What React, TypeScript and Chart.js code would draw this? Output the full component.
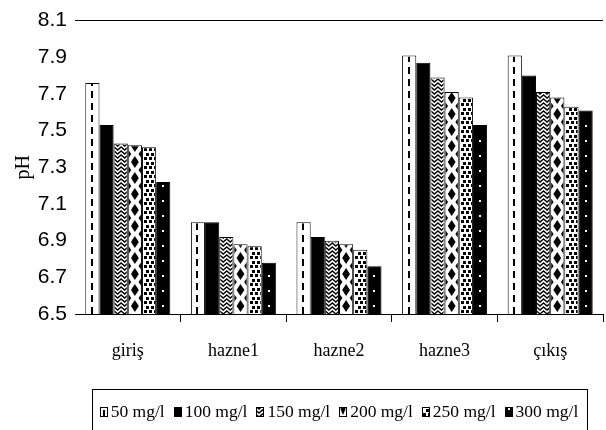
import React, { useEffect, useRef } from "react";
import { Chart, registerables } from "chart.js";

Chart.register(...registerables);

// Sampling points along the treatment line
const categories = ["giriş", "hazne1", "hazne2", "hazne3", "çıkış"];

// Dose series (mg/l) and the measured pH at each point
const seriesLabels = ["50 mg/l", "100 mg/l", "150 mg/l", "200 mg/l", "250 mg/l", "300 mg/l"];
const ph50 = [7.76, 7.0, 7.0, 7.91, 7.91];
const ph100 = [7.53, 7.0, 6.92, 7.87, 7.8];
const ph150 = [7.43, 6.92, 6.9, 7.79, 7.71];
const ph200 = [7.42, 6.88, 6.88, 7.71, 7.68];
const ph250 = [7.41, 6.87, 6.85, 7.68, 7.63];
const ph300 = [7.22, 6.78, 6.76, 7.53, 7.61];

// Value axis
const yMin = 6.5;
const yMax = 8.1;
const yStep = 0.2;
const yTitle = "pH";

type Fill = (ctx: CanvasRenderingContext2D, x: number, y: number, w: number, h: number) => void;

// White with a dashed vertical stripe
const fillDashed: Fill = (ctx, x, y, w, h) => {
  ctx.fillStyle = "#fff";
  ctx.fillRect(x, y, w, h);
  ctx.strokeStyle = "#000";
  ctx.lineWidth = 2;
  ctx.setLineDash([7, 5]);
  const cx = Math.round(x + w * 0.45);
  ctx.beginPath();
  ctx.moveTo(cx, y + h);
  ctx.lineTo(cx, y);
  ctx.stroke();
  ctx.setLineDash([]);
};

// Solid black
const fillSolid: Fill = (ctx, x, y, w, h) => {
  ctx.fillStyle = "#000";
  ctx.fillRect(x, y, w, h);
};

// Herringbone zig-zag
const fillZigzag: Fill = (ctx, x, y, w, h) => {
  ctx.fillStyle = "#fff";
  ctx.fillRect(x, y, w, h);
  ctx.strokeStyle = "#000";
  ctx.lineWidth = 1.4;
  for (let yy = y + h + 4; yy > y - 6; yy -= 4) {
    ctx.beginPath();
    let k = 0;
    for (let xx = x - 4; xx <= x + w + 4; xx += 3.5, k++) {
      const py = yy - (k % 2 ? 3 : 0);
      if (k === 0) ctx.moveTo(xx, py);
      else ctx.lineTo(xx, py);
    }
    ctx.stroke();
  }
};

// Column of black diamonds with half-diamonds on the edges
const fillDiamonds: Fill = (ctx, x, y, w, h) => {
  ctx.fillStyle = "#fff";
  ctx.fillRect(x, y, w, h);
  ctx.fillStyle = "#000";
  const period = 16;
  const cx = x + w / 2;
  const diamond = (px: number, py: number, hw: number, hh: number) => {
    ctx.beginPath();
    ctx.moveTo(px, py - hh);
    ctx.lineTo(px + hw, py);
    ctx.lineTo(px, py + hh);
    ctx.lineTo(px - hw, py);
    ctx.closePath();
    ctx.fill();
  };
  for (let cy = y + h - period / 2; cy > y - period; cy -= period) {
    diamond(cx, cy, w * 0.32, 6);
    diamond(x - 1, cy - period / 2, w * 0.28, 5);
    diamond(x + w + 1, cy - period / 2, w * 0.28, 5);
  }
};

// Staggered small squares
const fillChecks: Fill = (ctx, x, y, w, h) => {
  ctx.fillStyle = "#fff";
  ctx.fillRect(x, y, w, h);
  ctx.fillStyle = "#000";
  let row = 0;
  for (let yy = y + h - 4; yy > y - 5; yy -= 4.5, row++) {
    const off = row % 2 ? 2.5 : 0;
    for (let xx = x + 1 + off; xx < x + w; xx += 5) {
      ctx.fillRect(Math.round(xx), Math.round(yy), 3, 3);
    }
  }
};

// Black with a sparse column of white dots
const fillDots: Fill = (ctx, x, y, w, h) => {
  ctx.fillStyle = "#000";
  ctx.fillRect(x, y, w, h);
  ctx.fillStyle = "#fff";
  const cx = Math.round(x + w / 2 - 1);
  for (let yy = y + h - 9; yy > y; yy -= 15) {
    ctx.fillRect(cx, Math.round(yy), 2, 2);
  }
};

const fills: Fill[] = [fillDashed, fillSolid, fillZigzag, fillDiamonds, fillChecks, fillDots];
const seriesValues = [ph50, ph100, ph150, ph200, ph250, ph300];

const barPatterns = {
  id: "barPatterns",
  afterDatasetsDraw(chart: any) {
    const ctx: CanvasRenderingContext2D = chart.ctx;
    const area = chart.chartArea;
    chart.data.datasets.forEach((_ds: any, di: number) => {
      const meta = chart.getDatasetMeta(di);
      const fill = fills[di];
      meta.data.forEach((el: any) => {
        const { x, y, base, width } = el.getProps(["x", "y", "base", "width"], true);
        const left = x - width / 2;
        const top = Math.max(Math.min(y, base), area.top);
        const bottom = Math.min(Math.max(y, base), area.bottom);
        const ix = left + 1;
        const iy = top + 1;
        const iw = width - 2;
        const ih = bottom - top - 1;
        if (iw <= 0 || ih <= 0) return;
        ctx.save();
        ctx.beginPath();
        ctx.rect(ix, iy, iw, ih);
        ctx.clip();
        fill(ctx, ix, iy, iw, ih);
        ctx.restore();
      });
    });
  },
};

const boxedLegend = {
  id: "boxedLegend",
  afterDraw(chart: any) {
    const ctx: CanvasRenderingContext2D = chart.ctx;
    const area = chart.chartArea;
    const labels: string[] = chart.data.datasets.map((d: any) => d.label);
    ctx.save();
    ctx.font = '17.5px "Liberation Serif"';
    const sw = 8;
    const sh = 10;
    const gapText = 3;
    const gapItem = 9;
    const widths = labels.map((l) => ctx.measureText(l).width);
    const total =
      widths.reduce((a, b) => a + b, 0) + labels.length * (sw + gapText) + (labels.length - 1) * gapItem;
    const cx = (area.left + area.right) / 2;
    const startX = cx - total / 2;
    const baseline = 417;

    ctx.strokeStyle = "#000";
    ctx.lineWidth = 1;
    ctx.strokeRect(Math.round(startX - 8) + 0.5, 389.5, Math.round(total + 16), 60);

    let x = startX;
    labels.forEach((label, i) => {
      const bx = Math.round(x);
      const by = 407;
      ctx.save();
      ctx.beginPath();
      ctx.rect(bx, by, sw, sh);
      ctx.clip();
      fills[i](ctx, bx, by, sw, sh);
      ctx.restore();
      ctx.strokeStyle = "#000";
      ctx.lineWidth = 1;
      ctx.strokeRect(bx + 0.5, by + 0.5, sw - 1, sh - 1);
      x += sw + gapText;
      ctx.fillStyle = "#000";
      ctx.textBaseline = "alphabetic";
      ctx.textAlign = "left";
      ctx.fillText(label, x, baseline);
      x += widths[i] + gapItem;
    });
    ctx.restore();
  },
};

export default function App() {
  const canvasRef = useRef<HTMLCanvasElement | null>(null);

  useEffect(() => {
    const canvas = canvasRef.current;
    if (!canvas) return;
    const chart = new Chart(canvas, {
      type: "bar",
      data: {
        labels: categories,
        datasets: seriesLabels.map((label, i) => ({
          label,
          data: seriesValues[i],
          backgroundColor: i === 1 || i === 5 ? "#000" : "#fff",
          borderColor: "#000",
          borderWidth: 1,
          borderSkipped: false,
          categoryPercentage: 0.805,
          barPercentage: 1,
        })),
      },
      options: {
        responsive: false,
        animation: false,
        devicePixelRatio: 1,
        layout: { padding: { top: 13, right: 3, bottom: 0, left: 0 } },
        plugins: {
          legend: { display: false },
          tooltip: { enabled: false },
        },
        scales: {
          x: {
            offset: true,
            grid: {
              offset: true,
              drawOnChartArea: false,
              drawTicks: true,
              tickLength: 8,
              color: (c: any) => (c.index === 0 ? "rgba(0,0,0,0)" : "#000"),
            },
            border: { display: true, color: "#000", width: 1, z: 1 },
            ticks: {
              color: "#000",
              padding: 18,
              font: { family: '"Liberation Serif"', size: 18 },
            },
            afterFit: (s: any) => {
              s.height = 116;
            },
          },
          y: {
            min: yMin,
            max: yMax,
            grid: {
              drawTicks: false,
              color: (c: any) =>
                c.tick && Math.abs(c.tick.value - yMax) < 1e-6 ? "#000" : "rgba(0,0,0,0)",
            },
            border: { display: false },
            ticks: {
              stepSize: yStep,
              color: "#000",
              padding: 8,
              font: { family: '"Liberation Sans"', size: 21 },
              callback: (v: any) => Number(v).toFixed(1),
            },
            title: {
              display: true,
              text: yTitle,
              color: "#000",
              padding: { top: 12, bottom: 0 },
              font: { family: '"Liberation Serif"', size: 20 },
            },
            afterFit: (s: any) => {
              s.width = 75;
            },
          },
        },
      },
      plugins: [barPatterns, boxedLegend],
    });
    return () => chart.destroy();
  }, []);

  return (
    <div style={{ position: "fixed", left: 0, top: 0, width: 606, height: 430, background: "#fff" }}>
      <canvas ref={canvasRef} width={606} height={430} style={{ display: "block" }} />
    </div>
  );
}
